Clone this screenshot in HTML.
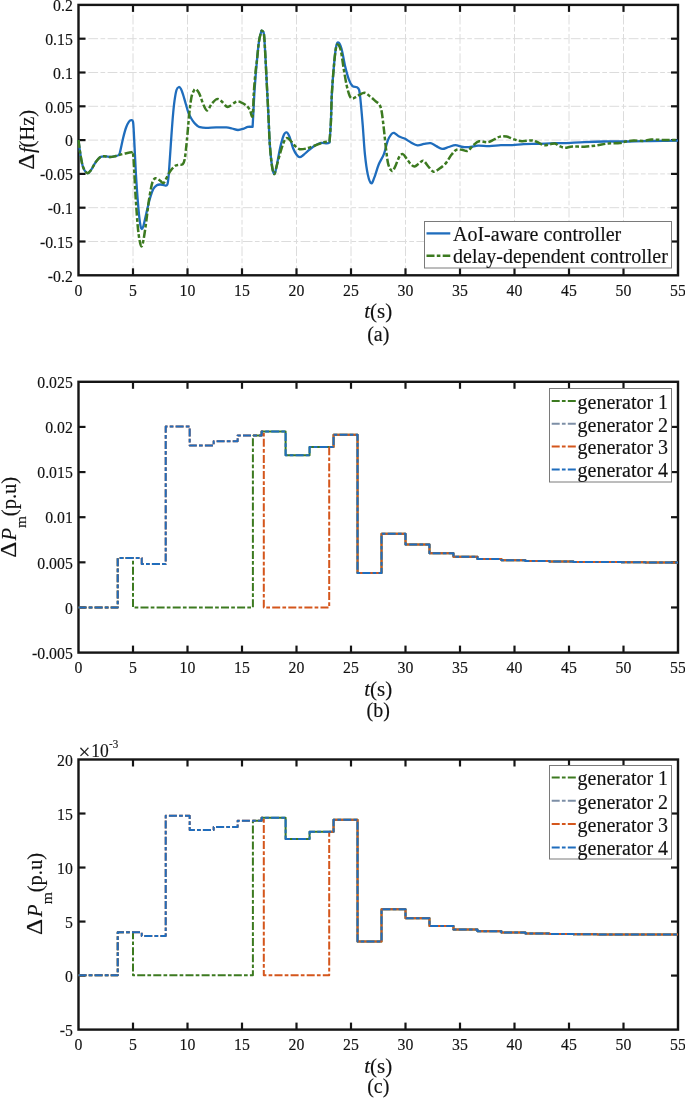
<!DOCTYPE html>
<html><head><meta charset="utf-8"><title>figure</title>
<style>html,body{margin:0;padding:0;background:#fff;}body{width:685px;height:1100px;overflow:hidden;font-family:"Liberation Serif",serif;}svg{display:block;filter:blur(0.3px);}text{stroke:#1a1a1a;stroke-width:0.15px;}</style>
</head><body>
<svg width="685" height="1100" viewBox="0 0 685 1100" font-family="'Liberation Serif', serif" fill="#111">
<rect width="685" height="1100" fill="#fff"/>
<line x1="78.5" y1="38.7" x2="678" y2="38.7" stroke="#dcdcdc" stroke-width="1" stroke-dasharray="9.8 2.4 4.7 2.4" stroke-dashoffset="9.5"/>
<line x1="78.5" y1="72.5" x2="678" y2="72.5" stroke="#dcdcdc" stroke-width="1" stroke-dasharray="9.8 2.4 4.7 2.4" stroke-dashoffset="9.5"/>
<line x1="78.5" y1="106.3" x2="678" y2="106.3" stroke="#dcdcdc" stroke-width="1" stroke-dasharray="9.8 2.4 4.7 2.4" stroke-dashoffset="9.5"/>
<line x1="78.5" y1="140.1" x2="678" y2="140.1" stroke="#dcdcdc" stroke-width="1" stroke-dasharray="9.8 2.4 4.7 2.4" stroke-dashoffset="9.5"/>
<line x1="78.5" y1="173.9" x2="678" y2="173.9" stroke="#dcdcdc" stroke-width="1" stroke-dasharray="9.8 2.4 4.7 2.4" stroke-dashoffset="9.5"/>
<line x1="78.5" y1="207.7" x2="678" y2="207.7" stroke="#dcdcdc" stroke-width="1" stroke-dasharray="9.8 2.4 4.7 2.4" stroke-dashoffset="9.5"/>
<line x1="78.5" y1="241.5" x2="678" y2="241.5" stroke="#dcdcdc" stroke-width="1" stroke-dasharray="9.8 2.4 4.7 2.4" stroke-dashoffset="9.5"/>
<line x1="133" y1="4.9" x2="133" y2="275.3" stroke="#dcdcdc" stroke-width="1" stroke-dasharray="9.8 2.4 4.7 2.4" stroke-dashoffset="9.5"/>
<line x1="187.5" y1="4.9" x2="187.5" y2="275.3" stroke="#dcdcdc" stroke-width="1" stroke-dasharray="9.8 2.4 4.7 2.4" stroke-dashoffset="9.5"/>
<line x1="242" y1="4.9" x2="242" y2="275.3" stroke="#dcdcdc" stroke-width="1" stroke-dasharray="9.8 2.4 4.7 2.4" stroke-dashoffset="9.5"/>
<line x1="296.5" y1="4.9" x2="296.5" y2="275.3" stroke="#dcdcdc" stroke-width="1" stroke-dasharray="9.8 2.4 4.7 2.4" stroke-dashoffset="9.5"/>
<line x1="351" y1="4.9" x2="351" y2="275.3" stroke="#dcdcdc" stroke-width="1" stroke-dasharray="9.8 2.4 4.7 2.4" stroke-dashoffset="9.5"/>
<line x1="405.5" y1="4.9" x2="405.5" y2="275.3" stroke="#dcdcdc" stroke-width="1" stroke-dasharray="9.8 2.4 4.7 2.4" stroke-dashoffset="9.5"/>
<line x1="460" y1="4.9" x2="460" y2="275.3" stroke="#dcdcdc" stroke-width="1" stroke-dasharray="9.8 2.4 4.7 2.4" stroke-dashoffset="9.5"/>
<line x1="514.5" y1="4.9" x2="514.5" y2="275.3" stroke="#dcdcdc" stroke-width="1" stroke-dasharray="9.8 2.4 4.7 2.4" stroke-dashoffset="9.5"/>
<line x1="569" y1="4.9" x2="569" y2="275.3" stroke="#dcdcdc" stroke-width="1" stroke-dasharray="9.8 2.4 4.7 2.4" stroke-dashoffset="9.5"/>
<line x1="623.5" y1="4.9" x2="623.5" y2="275.3" stroke="#dcdcdc" stroke-width="1" stroke-dasharray="9.8 2.4 4.7 2.4" stroke-dashoffset="9.5"/>
<line x1="78.5" y1="38.7" x2="85.5" y2="38.7" stroke="#151515" stroke-width="2.2"/>
<line x1="671" y1="38.7" x2="678" y2="38.7" stroke="#151515" stroke-width="2.2"/>
<line x1="78.5" y1="72.5" x2="85.5" y2="72.5" stroke="#151515" stroke-width="2.2"/>
<line x1="671" y1="72.5" x2="678" y2="72.5" stroke="#151515" stroke-width="2.2"/>
<line x1="78.5" y1="106.3" x2="85.5" y2="106.3" stroke="#151515" stroke-width="2.2"/>
<line x1="671" y1="106.3" x2="678" y2="106.3" stroke="#151515" stroke-width="2.2"/>
<line x1="78.5" y1="140.1" x2="85.5" y2="140.1" stroke="#151515" stroke-width="2.2"/>
<line x1="671" y1="140.1" x2="678" y2="140.1" stroke="#151515" stroke-width="2.2"/>
<line x1="78.5" y1="173.9" x2="85.5" y2="173.9" stroke="#151515" stroke-width="2.2"/>
<line x1="671" y1="173.9" x2="678" y2="173.9" stroke="#151515" stroke-width="2.2"/>
<line x1="78.5" y1="207.7" x2="85.5" y2="207.7" stroke="#151515" stroke-width="2.2"/>
<line x1="671" y1="207.7" x2="678" y2="207.7" stroke="#151515" stroke-width="2.2"/>
<line x1="78.5" y1="241.5" x2="85.5" y2="241.5" stroke="#151515" stroke-width="2.2"/>
<line x1="671" y1="241.5" x2="678" y2="241.5" stroke="#151515" stroke-width="2.2"/>
<line x1="133" y1="275.3" x2="133" y2="268.3" stroke="#151515" stroke-width="2.2"/>
<line x1="133" y1="4.9" x2="133" y2="11.9" stroke="#151515" stroke-width="2.2"/>
<line x1="187.5" y1="275.3" x2="187.5" y2="268.3" stroke="#151515" stroke-width="2.2"/>
<line x1="187.5" y1="4.9" x2="187.5" y2="11.9" stroke="#151515" stroke-width="2.2"/>
<line x1="242" y1="275.3" x2="242" y2="268.3" stroke="#151515" stroke-width="2.2"/>
<line x1="242" y1="4.9" x2="242" y2="11.9" stroke="#151515" stroke-width="2.2"/>
<line x1="296.5" y1="275.3" x2="296.5" y2="268.3" stroke="#151515" stroke-width="2.2"/>
<line x1="296.5" y1="4.9" x2="296.5" y2="11.9" stroke="#151515" stroke-width="2.2"/>
<line x1="351" y1="275.3" x2="351" y2="268.3" stroke="#151515" stroke-width="2.2"/>
<line x1="351" y1="4.9" x2="351" y2="11.9" stroke="#151515" stroke-width="2.2"/>
<line x1="405.5" y1="275.3" x2="405.5" y2="268.3" stroke="#151515" stroke-width="2.2"/>
<line x1="405.5" y1="4.9" x2="405.5" y2="11.9" stroke="#151515" stroke-width="2.2"/>
<line x1="460" y1="275.3" x2="460" y2="268.3" stroke="#151515" stroke-width="2.2"/>
<line x1="460" y1="4.9" x2="460" y2="11.9" stroke="#151515" stroke-width="2.2"/>
<line x1="514.5" y1="275.3" x2="514.5" y2="268.3" stroke="#151515" stroke-width="2.2"/>
<line x1="514.5" y1="4.9" x2="514.5" y2="11.9" stroke="#151515" stroke-width="2.2"/>
<line x1="569" y1="275.3" x2="569" y2="268.3" stroke="#151515" stroke-width="2.2"/>
<line x1="569" y1="4.9" x2="569" y2="11.9" stroke="#151515" stroke-width="2.2"/>
<line x1="623.5" y1="275.3" x2="623.5" y2="268.3" stroke="#151515" stroke-width="2.2"/>
<line x1="623.5" y1="4.9" x2="623.5" y2="11.9" stroke="#151515" stroke-width="2.2"/>
<rect x="78.5" y="4.9" width="599.5" height="270.4" fill="none" stroke="#151515" stroke-width="2.4"/>
<path d="M78.5,140C78.77,142.05 79.35,147.82 80.1,152.3C80.85,156.78 81.78,163.43 83,166.9C84.22,170.37 86.05,172.6 87.4,173.1C88.75,173.6 89.77,171.65 91.1,169.9C92.43,168.15 93.83,164.75 95.4,162.6C96.97,160.45 98.78,158.03 100.5,157C102.22,155.97 104.12,156.4 105.7,156.4C107.28,156.4 108.55,157 110,157C111.45,157 112.93,156.73 114.4,156.4C115.87,156.07 117.82,155.92 118.8,155C119.78,154.08 119.57,153.78 120.3,150.9C121.03,148.02 122.23,141.6 123.2,137.7C124.17,133.8 125.13,130.17 126.1,127.5C127.07,124.83 128.15,122.92 129,121.7C129.85,120.48 130.53,120.2 131.2,120.2C131.87,120.2 132.57,119.75 133,121.7C133.43,123.65 133.48,126.55 133.8,131.9C134.12,137.25 134.48,145.77 134.9,153.8C135.32,161.83 135.7,170.85 136.3,180.1C136.9,189.35 137.82,201.77 138.5,209.3C139.18,216.83 139.83,222.02 140.4,225.3C140.97,228.58 141.37,229 141.9,229C142.43,229 142.87,227.88 143.6,225.3C144.33,222.72 145.27,217.88 146.3,213.5C147.33,209.12 148.63,203.08 149.8,199C150.97,194.92 152.13,191.3 153.3,189C154.47,186.7 155.63,185.95 156.8,185.2C157.97,184.45 158.98,184.47 160.3,184.5C161.62,184.53 163.53,185.38 164.7,185.4C165.87,185.42 166.65,186.17 167.3,184.6C167.95,183.03 168.17,180.43 168.6,176C169.03,171.57 169.43,164.67 169.9,158C170.37,151.33 170.88,143.17 171.4,136C171.92,128.83 172.48,120.85 173,115C173.52,109.15 173.92,105.07 174.5,100.9C175.08,96.73 175.77,92.32 176.5,90C177.23,87.68 178.15,87.17 178.9,87C179.65,86.83 180.28,87.67 181,89C181.72,90.33 182.4,92.5 183.2,95C184,97.5 184.93,101.07 185.8,104C186.67,106.93 187.53,110.27 188.4,112.6C189.27,114.93 190.03,116.3 191,118C191.97,119.7 193.2,121.55 194.2,122.8C195.2,124.05 196.03,124.77 197,125.5C197.97,126.23 198.52,126.8 200,127.2C201.48,127.6 203.22,127.87 205.9,127.9C208.58,127.93 212.7,127.48 216.1,127.4C219.5,127.32 223.65,127.22 226.3,127.4C228.95,127.58 230.05,128.07 232,128.5C233.95,128.93 236.03,129.98 238,130C239.97,130.02 242.17,129.12 243.8,128.6C245.43,128.08 246.33,127.18 247.8,126.9C249.27,126.62 252.6,126.9 252.6,126.9C252.6,126.9 252.87,122.15 253.2,116C253.53,109.85 254,99 254.6,90C255.2,81 256.08,70 256.8,62C257.52,54 258.18,47 258.9,42C259.62,37 260.55,33.83 261.1,32C261.65,30.17 261.72,30.57 262.2,31C262.68,31.43 263.47,30.35 264,34.6C264.53,38.85 264.92,47.98 265.4,56.5C265.88,65.02 266.4,75.97 266.9,85.7C267.4,95.43 267.92,105.17 268.4,114.9C268.88,124.63 269.2,135.58 269.8,144.1C270.4,152.62 271.27,161.02 272,166C272.73,170.98 273.47,173.77 274.2,174C274.93,174.23 275.43,171.65 276.4,167.4C277.37,163.15 278.78,153.85 280,148.5C281.22,143.15 282.6,137.98 283.7,135.3C284.8,132.62 285.63,132.15 286.6,132.4C287.57,132.65 288.4,134.12 289.5,136.8C290.6,139.48 291.98,145.47 293.2,148.5C294.42,151.53 295.72,153.55 296.8,155C297.88,156.45 298.6,157.2 299.7,157.2C300.8,157.2 301.82,156.22 303.4,155C304.98,153.78 307.25,151.48 309.2,149.9C311.15,148.32 313.15,146.67 315.1,145.5C317.05,144.33 318.95,143.25 320.9,142.9C322.85,142.55 325.37,143.45 326.8,143.4C328.23,143.35 329.5,142.6 329.5,142.6C329.5,142.6 330.5,130.27 330.9,122C331.3,113.73 331.37,102.7 331.9,93C332.43,83.3 333.38,71.58 334.1,63.8C334.82,56.02 335.47,49.85 336.2,46.3C336.93,42.75 337.6,42.05 338.5,42.5C339.4,42.95 340.48,45 341.6,49C342.72,53 343.98,61.4 345.2,66.5C346.42,71.6 347.68,76.32 348.9,79.6C350.12,82.88 351.17,84.93 352.5,86.2C353.83,87.47 355.8,86.58 356.9,87.2C358,87.82 358.5,87.75 359.1,89.9C359.7,92.05 359.9,94.27 360.5,100.1C361.1,105.93 361.97,115.9 362.7,124.9C363.43,133.9 364.05,145.83 364.9,154.1C365.75,162.37 366.75,169.63 367.8,174.5C368.85,179.37 370.1,182.82 371.2,183.3C372.3,183.78 373.13,180.57 374.4,177.4C375.67,174.23 377.22,168.18 378.8,164.3C380.38,160.42 382.43,157.98 383.9,154.1C385.37,150.22 386.38,144.28 387.6,141C388.82,137.72 390.12,135.75 391.2,134.4C392.28,133.05 392.77,132.53 394.1,132.9C395.43,133.27 397.37,135.62 399.2,136.6C401.03,137.58 403.15,137.83 405.1,138.8C407.05,139.77 408.83,141.32 410.9,142.4C412.97,143.48 415.32,145.05 417.5,145.3C419.68,145.55 421.8,144.25 424,143.9C426.2,143.55 428.63,142.83 430.7,143.2C432.77,143.57 434.5,145.15 436.4,146.1C438.3,147.05 440.05,148.75 442.1,148.9C444.15,149.05 446.48,147.63 448.7,147C450.92,146.37 453.02,145.1 455.4,145.1C457.78,145.1 460.48,146.68 463,147C465.52,147.32 467.98,147.22 470.5,147C473.02,146.78 474.93,145.85 478.1,145.7C481.27,145.55 485.7,146.2 489.5,146.1C493.3,146 497.1,145.27 500.9,145.1C504.7,144.93 508.5,145.25 512.3,145.1C516.1,144.95 519.27,144.42 523.7,144.2C528.13,143.98 533.68,143.97 538.9,143.8C544.12,143.63 550.7,143.32 555,143.2C559.3,143.08 559.8,143.28 564.7,143.1C569.6,142.92 577.83,142.37 584.4,142.1C590.97,141.83 597.53,141.6 604.1,141.5C610.67,141.4 617.23,141.57 623.8,141.5C630.37,141.43 636.92,141.2 643.5,141.1C650.08,141 657.55,140.97 663.3,140.9C669.05,140.83 675.55,140.73 678,140.7" fill="none" stroke="#1f6dbd" stroke-width="2.3" stroke-linejoin="round"/>
<path d="M78.5,140C78.77,142.05 79.35,147.82 80.1,152.3C80.85,156.78 81.78,163.43 83,166.9C84.22,170.37 86.05,172.6 87.4,173.1C88.75,173.6 89.77,171.65 91.1,169.9C92.43,168.15 93.83,164.75 95.4,162.6C96.97,160.45 98.78,158.03 100.5,157C102.22,155.97 104.12,156.4 105.7,156.4C107.28,156.4 108.55,157 110,157C111.45,157 112.93,156.73 114.4,156.4C115.87,156.07 117.03,155.48 118.8,155C120.57,154.52 122.88,153.97 125,153.5C127.12,153.03 130.17,152.28 131.5,152.2C132.83,152.12 132.55,150.03 133,153C133.45,155.97 133.83,163.83 134.2,170C134.57,176.17 134.85,183.83 135.2,190C135.55,196.17 135.87,200.87 136.3,207C136.73,213.13 137.27,221.3 137.8,226.8C138.33,232.3 138.9,236.72 139.5,240C140.1,243.28 140.73,246.5 141.4,246.5C142.07,246.5 142.65,244.5 143.5,240C144.35,235.5 145.67,225.67 146.5,219.5C147.33,213.33 147.77,208.12 148.5,203C149.23,197.88 150.23,192.3 150.9,188.8C151.57,185.3 151.88,183.7 152.5,182C153.12,180.3 154.02,179.22 154.6,178.6C155.18,177.98 155.43,178.23 156,178.3C156.57,178.37 157.25,178.55 158,179C158.75,179.45 159.62,180.33 160.5,181C161.38,181.67 162.47,183.17 163.3,183C164.13,182.83 164.65,181.47 165.5,180C166.35,178.53 167.4,175.95 168.4,174.2C169.4,172.45 170.37,170.9 171.5,169.5C172.63,168.1 174.03,166.58 175.2,165.8C176.37,165.02 177.28,165.03 178.5,164.8C179.72,164.57 181.47,165.32 182.5,164.4C183.53,163.48 183.97,163.32 184.7,159.3C185.43,155.28 186.17,147.6 186.9,140.3C187.63,133 188.37,122.55 189.1,115.5C189.83,108.45 190.57,102.02 191.3,98C192.03,93.98 192.77,92.87 193.5,91.4C194.23,89.93 194.73,88.83 195.7,89.2C196.67,89.57 197.97,90.92 199.3,93.6C200.63,96.28 202.37,102.5 203.7,105.3C205.03,108.1 205.97,110.65 207.3,110.4C208.63,110.15 210.12,105.68 211.7,103.8C213.28,101.92 215.22,99.58 216.8,99.1C218.38,98.62 219.62,99.68 221.2,100.9C222.78,102.12 224.97,105.48 226.3,106.4C227.63,107.32 227.5,107.2 229.2,106.4C230.9,105.6 234.55,102.28 236.5,101.6C238.45,100.92 239.32,101.68 240.9,102.3C242.48,102.92 244.53,104.08 246,105.3C247.47,106.52 248.6,107.78 249.7,109.6C250.8,111.42 251.92,118.97 252.6,116.2C253.28,113.43 253.32,100.37 253.8,93C254.28,85.63 254.97,77.5 255.5,72C256.03,66.5 256.43,65 257,60C257.57,55 258.22,46.67 258.9,42C259.58,37.33 260.55,33.83 261.1,32C261.65,30.17 261.72,30.57 262.2,31C262.68,31.43 263.47,30.35 264,34.6C264.53,38.85 264.92,47.98 265.4,56.5C265.88,65.02 266.4,75.97 266.9,85.7C267.4,95.43 267.92,105.17 268.4,114.9C268.88,124.63 269.2,135.58 269.8,144.1C270.4,152.62 271.27,161.02 272,166C272.73,170.98 273.5,173.67 274.2,174C274.9,174.33 275.47,170.55 276.2,168C276.93,165.45 277.47,162.68 278.6,158.7C279.73,154.72 281.67,147.52 283,144.1C284.33,140.68 285.38,138.82 286.6,138.2C287.82,137.58 288.97,139.18 290.3,140.4C291.63,141.62 293.03,144.03 294.6,145.5C296.17,146.97 297.75,148.7 299.7,149.2C301.65,149.7 303.73,149.12 306.3,148.5C308.87,147.88 312.18,146.53 315.1,145.5C318.02,144.47 321.4,142.95 323.8,142.3C326.2,141.65 329.5,141.6 329.5,141.6C329.5,141.6 330.5,130.1 330.9,122C331.3,113.9 331.37,102.7 331.9,93C332.43,83.3 333.42,71.3 334.1,63.8C334.78,56.3 335.37,51.2 336,48C336.63,44.8 337.1,44.2 337.9,44.6C338.7,45 339.82,46.27 340.8,50.4C341.78,54.53 342.82,63.55 343.8,69.4C344.78,75.25 345.73,81.12 346.7,85.5C347.67,89.88 348.63,93.52 349.6,95.7C350.57,97.88 351.28,98.48 352.5,98.6C353.72,98.72 354.95,97.37 356.9,96.4C358.85,95.43 362.02,92.8 364.2,92.8C366.38,92.8 368.05,94.95 370,96.4C371.95,97.85 374.32,100.15 375.9,101.5C377.48,102.85 378.53,102.78 379.5,104.5C380.47,106.22 380.97,107.67 381.7,111.8C382.43,115.93 383.17,122.98 383.9,129.3C384.63,135.62 385.37,143.87 386.1,149.7C386.83,155.53 387.33,160.77 388.3,164.3C389.27,167.83 390.8,170.42 391.9,170.9C393,171.38 393.68,169.52 394.9,167.2C396.12,164.88 397.87,159.18 399.2,157C400.53,154.82 401.68,153.85 402.9,154.1C404.12,154.35 405.17,156.8 406.5,158.5C407.83,160.2 409.55,162.97 410.9,164.3C412.25,165.63 413.27,166.62 414.6,166.5C415.93,166.38 417.45,164.57 418.9,163.6C420.35,162.63 421.73,160.22 423.3,160.7C424.87,161.18 426.6,164.67 428.3,166.5C430,168.33 431.68,171.32 433.5,171.7C435.32,172.08 437.13,170.23 439.2,168.8C441.27,167.37 443.83,165.47 445.9,163.1C447.97,160.73 449.87,156.82 451.6,154.6C453.33,152.38 454.57,150.6 456.3,149.8C458.03,149 460.1,149.63 462,149.8C463.9,149.97 465.8,151.58 467.7,150.8C469.6,150.02 471.5,146.68 473.4,145.1C475.3,143.52 476.73,141.77 479.1,141.3C481.47,140.83 485.07,142.62 487.6,142.3C490.13,141.98 492.23,140.35 494.3,139.4C496.37,138.45 497.95,137.07 500,136.6C502.05,136.13 504.23,136.13 506.6,136.6C508.97,137.07 511.67,138.62 514.2,139.4C516.73,140.18 518.95,141.13 521.8,141.3C524.65,141.47 528.77,140.3 531.3,140.4C533.83,140.5 534.95,141.12 537,141.9C539.05,142.68 541.4,144.72 543.6,145.1C545.8,145.48 548.3,144.47 550.2,144.2C552.1,143.93 553.57,143.22 555,143.5C556.43,143.78 557.18,145.18 558.8,145.9C560.42,146.62 562.4,147.7 564.7,147.8C567,147.9 569.32,146.68 572.6,146.5C575.88,146.32 580.47,146.87 584.4,146.7C588.33,146.53 592.25,146.03 596.2,145.5C600.15,144.97 604.15,143.9 608.1,143.5C612.05,143.1 616.95,143.43 619.9,143.1C622.85,142.77 623.5,141.93 625.8,141.5C628.1,141.07 630.75,140.6 633.7,140.5C636.65,140.4 640.55,141.05 643.5,140.9C646.45,140.75 648.1,139.75 651.4,139.6C654.7,139.45 659.03,139.93 663.3,140C667.57,140.07 674.72,140 677,140" fill="none" stroke="#3c7a20" stroke-width="2.5" stroke-dasharray="8 2.3 3.6 2.3" stroke-linejoin="round"/>
<rect x="424.5" y="221.5" width="247" height="46.5" fill="#fff" stroke="#7a7a7a" stroke-width="1"/>
<line x1="426.5" y1="233.4" x2="450.3" y2="233.4" stroke="#1f6dbd" stroke-width="2.3"/>
<line x1="426.5" y1="255.8" x2="450.3" y2="255.8" stroke="#3c7a20" stroke-width="2.5" stroke-dasharray="8 2.3 3.6 2.3"/>
<text x="453" y="241.2" font-size="20">AoI-aware controller</text>
<text x="453" y="263.2" font-size="20">delay-dependent controller</text>
<text transform="translate(72.8,11.1) scale(1,1.11)" text-anchor="end" font-size="15.8">0.2</text>
<text transform="translate(72.8,44.9) scale(1,1.11)" text-anchor="end" font-size="15.8">0.15</text>
<text transform="translate(72.8,78.7) scale(1,1.11)" text-anchor="end" font-size="15.8">0.1</text>
<text transform="translate(72.8,112.5) scale(1,1.11)" text-anchor="end" font-size="15.8">0.05</text>
<text transform="translate(72.8,146.3) scale(1,1.11)" text-anchor="end" font-size="15.8">0</text>
<text transform="translate(72.8,180.1) scale(1,1.11)" text-anchor="end" font-size="15.8">-0.05</text>
<text transform="translate(72.8,213.9) scale(1,1.11)" text-anchor="end" font-size="15.8">-0.1</text>
<text transform="translate(72.8,247.7) scale(1,1.11)" text-anchor="end" font-size="15.8">-0.15</text>
<text transform="translate(72.8,281.5) scale(1,1.11)" text-anchor="end" font-size="15.8">-0.2</text>
<text transform="translate(78.5,295.8) scale(1,1.11)" text-anchor="middle" font-size="15.8">0</text>
<text transform="translate(133,295.8) scale(1,1.11)" text-anchor="middle" font-size="15.8">5</text>
<text transform="translate(187.5,295.8) scale(1,1.11)" text-anchor="middle" font-size="15.8">10</text>
<text transform="translate(242,295.8) scale(1,1.11)" text-anchor="middle" font-size="15.8">15</text>
<text transform="translate(296.5,295.8) scale(1,1.11)" text-anchor="middle" font-size="15.8">20</text>
<text transform="translate(351,295.8) scale(1,1.11)" text-anchor="middle" font-size="15.8">25</text>
<text transform="translate(405.5,295.8) scale(1,1.11)" text-anchor="middle" font-size="15.8">30</text>
<text transform="translate(460,295.8) scale(1,1.11)" text-anchor="middle" font-size="15.8">35</text>
<text transform="translate(514.5,295.8) scale(1,1.11)" text-anchor="middle" font-size="15.8">40</text>
<text transform="translate(569,295.8) scale(1,1.11)" text-anchor="middle" font-size="15.8">45</text>
<text transform="translate(623.5,295.8) scale(1,1.11)" text-anchor="middle" font-size="15.8">50</text>
<text transform="translate(678,295.8) scale(1,1.11)" text-anchor="middle" font-size="15.8">55</text>
<text x="378.25" y="318.4" text-anchor="middle" font-size="21"><tspan font-style="italic">t</tspan>(s)</text>
<text x="378.25" y="340.9" text-anchor="middle" font-size="20">(a)</text>
<text transform="translate(33.5,169.7) rotate(-90) scale(1.13,1)" font-size="22.3">&#916;</text>
<text transform="translate(33.5,153.1) rotate(-90)" font-size="20.5"><tspan font-style="italic">f</tspan>(Hz)</text>
<line x1="78.5" y1="426.93" x2="85.5" y2="426.93" stroke="#151515" stroke-width="2.2"/>
<line x1="671" y1="426.93" x2="678" y2="426.93" stroke="#151515" stroke-width="2.2"/>
<line x1="78.5" y1="472.07" x2="85.5" y2="472.07" stroke="#151515" stroke-width="2.2"/>
<line x1="671" y1="472.07" x2="678" y2="472.07" stroke="#151515" stroke-width="2.2"/>
<line x1="78.5" y1="517.2" x2="85.5" y2="517.2" stroke="#151515" stroke-width="2.2"/>
<line x1="671" y1="517.2" x2="678" y2="517.2" stroke="#151515" stroke-width="2.2"/>
<line x1="78.5" y1="562.33" x2="85.5" y2="562.33" stroke="#151515" stroke-width="2.2"/>
<line x1="671" y1="562.33" x2="678" y2="562.33" stroke="#151515" stroke-width="2.2"/>
<line x1="78.5" y1="607.47" x2="85.5" y2="607.47" stroke="#151515" stroke-width="2.2"/>
<line x1="671" y1="607.47" x2="678" y2="607.47" stroke="#151515" stroke-width="2.2"/>
<line x1="133" y1="652.6" x2="133" y2="645.6" stroke="#151515" stroke-width="2.2"/>
<line x1="133" y1="381.8" x2="133" y2="388.8" stroke="#151515" stroke-width="2.2"/>
<line x1="187.5" y1="652.6" x2="187.5" y2="645.6" stroke="#151515" stroke-width="2.2"/>
<line x1="187.5" y1="381.8" x2="187.5" y2="388.8" stroke="#151515" stroke-width="2.2"/>
<line x1="242" y1="652.6" x2="242" y2="645.6" stroke="#151515" stroke-width="2.2"/>
<line x1="242" y1="381.8" x2="242" y2="388.8" stroke="#151515" stroke-width="2.2"/>
<line x1="296.5" y1="652.6" x2="296.5" y2="645.6" stroke="#151515" stroke-width="2.2"/>
<line x1="296.5" y1="381.8" x2="296.5" y2="388.8" stroke="#151515" stroke-width="2.2"/>
<line x1="351" y1="652.6" x2="351" y2="645.6" stroke="#151515" stroke-width="2.2"/>
<line x1="351" y1="381.8" x2="351" y2="388.8" stroke="#151515" stroke-width="2.2"/>
<line x1="405.5" y1="652.6" x2="405.5" y2="645.6" stroke="#151515" stroke-width="2.2"/>
<line x1="405.5" y1="381.8" x2="405.5" y2="388.8" stroke="#151515" stroke-width="2.2"/>
<line x1="460" y1="652.6" x2="460" y2="645.6" stroke="#151515" stroke-width="2.2"/>
<line x1="460" y1="381.8" x2="460" y2="388.8" stroke="#151515" stroke-width="2.2"/>
<line x1="514.5" y1="652.6" x2="514.5" y2="645.6" stroke="#151515" stroke-width="2.2"/>
<line x1="514.5" y1="381.8" x2="514.5" y2="388.8" stroke="#151515" stroke-width="2.2"/>
<line x1="569" y1="652.6" x2="569" y2="645.6" stroke="#151515" stroke-width="2.2"/>
<line x1="569" y1="381.8" x2="569" y2="388.8" stroke="#151515" stroke-width="2.2"/>
<line x1="623.5" y1="652.6" x2="623.5" y2="645.6" stroke="#151515" stroke-width="2.2"/>
<line x1="623.5" y1="381.8" x2="623.5" y2="388.8" stroke="#151515" stroke-width="2.2"/>
<rect x="78.5" y="381.8" width="599.5" height="270.8" fill="none" stroke="#151515" stroke-width="2.4"/>
<path d="M78.5,607.5L117.74,607.5L117.74,558L133,558L133,607.5L141.72,607.5L141.72,607.5L165.7,607.5L165.7,607.5L189.68,607.5L189.68,607.5L213.66,607.5L213.66,607.5L237.64,607.5L237.64,607.5L252.9,607.5L252.9,435.4" fill="none" stroke="#3c7a20" stroke-width="2" stroke-dasharray="8 2.2 3.7 2.2" stroke-linejoin="round"/>
<path d="M252.9,435.4L261.62,435.4L261.62,431.4L285.6,431.4L285.6,455.3L309.58,455.3L309.58,447.1L333.56,447.1L333.56,434.8L357.54,434.8L357.54,572.9L381.52,572.9L381.52,533.8L405.5,533.8L405.5,544.5L429.48,544.5L429.48,553.3L453.46,553.3L453.46,556.8L477.44,556.8L477.44,559L501.42,559L501.42,560.3L525.4,560.3L525.4,561L549.38,561L549.38,561.5L573.36,561.5L573.36,561.9L597.34,561.9L597.34,562.1L621.32,562.1L621.32,562.3L645.3,562.3L645.3,562.4L669.28,562.4L669.28,562.5L678,562.5" fill="none" stroke="#3c7a20" stroke-width="2" stroke-linejoin="round"/>
<path d="M78.5,607.5L117.74,607.5L117.74,558L141.72,558L141.72,563.9L165.7,563.9L165.7,426.6L189.68,426.6L189.68,445.6L213.66,445.6L213.66,441.2L237.64,441.2L237.64,435.4L261.62,435.4L261.62,431.4L263.8,431.4L263.8,607.5L285.6,607.5L285.6,607.5L309.58,607.5L309.58,607.5L329.2,607.5L329.2,447.1" fill="none" stroke="#d4561c" stroke-width="2" stroke-dasharray="8 2.2 3.7 2.2" stroke-linejoin="round"/>
<path d="M329.2,447.1L333.56,447.1L333.56,434.8L357.54,434.8L357.54,572.9L381.52,572.9L381.52,533.8L405.5,533.8L405.5,544.5L429.48,544.5L429.48,553.3L453.46,553.3L453.46,556.8L477.44,556.8L477.44,559L501.42,559L501.42,560.3L525.4,560.3L525.4,561L549.38,561L549.38,561.5L573.36,561.5L573.36,561.9L597.34,561.9L597.34,562.1L621.32,562.1L621.32,562.3L645.3,562.3L645.3,562.4L669.28,562.4L669.28,562.5L678,562.5" fill="none" stroke="#d4561c" stroke-width="2" stroke-linejoin="round"/>
<path d="M78.5,607.5L117.74,607.5L117.74,558L141.72,558L141.72,563.9L165.7,563.9L165.7,426.6L189.68,426.6L189.68,445.6L213.66,445.6L213.66,441.2L237.64,441.2L237.64,435.4L261.62,435.4L261.62,431.4L285.6,431.4L285.6,455.3L309.58,455.3L309.58,447.1L333.56,447.1L333.56,434.8L357.54,434.8L357.54,572.9L381.52,572.9L381.52,533.8L405.5,533.8L405.5,544.5L429.48,544.5L429.48,553.3L453.46,553.3L453.46,556.8L477.44,556.8L477.44,559L501.42,559L501.42,560.3L525.4,560.3L525.4,561L549.38,561L549.38,561.5L573.36,561.5L573.36,561.9L597.34,561.9L597.34,562.1L621.32,562.1L621.32,562.3L645.3,562.3L645.3,562.4L669.28,562.4L669.28,562.5L678,562.5" fill="none" stroke="#1f6dbd" stroke-width="2" stroke-dasharray="8 2.2 3.7 2.2" stroke-linejoin="round"/>
<rect x="549.5" y="388.5" width="122" height="93.5" fill="#fff" stroke="#7a7a7a" stroke-width="1"/>
<line x1="551.7" y1="400.9" x2="576" y2="400.9" stroke="#3c7a20" stroke-width="2" stroke-dasharray="8 2.2 3.7 2.2"/>
<text x="577.6" y="408.7" font-size="20">generator 1</text>
<line x1="551.7" y1="423.7" x2="576" y2="423.7" stroke="#7d8fa6" stroke-width="2" stroke-dasharray="8 2.2 3.7 2.2"/>
<text x="577.6" y="431.5" font-size="20">generator 2</text>
<line x1="551.7" y1="446.6" x2="576" y2="446.6" stroke="#d4561c" stroke-width="2" stroke-dasharray="8 2.2 3.7 2.2"/>
<text x="577.6" y="454.4" font-size="20">generator 3</text>
<line x1="551.7" y1="469.6" x2="576" y2="469.6" stroke="#1f6dbd" stroke-width="2" stroke-dasharray="8 2.2 3.7 2.2"/>
<text x="577.6" y="477.4" font-size="20">generator 4</text>
<text transform="translate(72.8,388) scale(1,1.11)" text-anchor="end" font-size="15.8">0.025</text>
<text transform="translate(72.8,433.13) scale(1,1.11)" text-anchor="end" font-size="15.8">0.02</text>
<text transform="translate(72.8,478.27) scale(1,1.11)" text-anchor="end" font-size="15.8">0.015</text>
<text transform="translate(72.8,523.4) scale(1,1.11)" text-anchor="end" font-size="15.8">0.01</text>
<text transform="translate(72.8,568.53) scale(1,1.11)" text-anchor="end" font-size="15.8">0.005</text>
<text transform="translate(72.8,613.67) scale(1,1.11)" text-anchor="end" font-size="15.8">0</text>
<text transform="translate(72.8,658.8) scale(1,1.11)" text-anchor="end" font-size="15.8">-0.005</text>
<text transform="translate(78.5,673.3) scale(1,1.11)" text-anchor="middle" font-size="15.8">0</text>
<text transform="translate(133,673.3) scale(1,1.11)" text-anchor="middle" font-size="15.8">5</text>
<text transform="translate(187.5,673.3) scale(1,1.11)" text-anchor="middle" font-size="15.8">10</text>
<text transform="translate(242,673.3) scale(1,1.11)" text-anchor="middle" font-size="15.8">15</text>
<text transform="translate(296.5,673.3) scale(1,1.11)" text-anchor="middle" font-size="15.8">20</text>
<text transform="translate(351,673.3) scale(1,1.11)" text-anchor="middle" font-size="15.8">25</text>
<text transform="translate(405.5,673.3) scale(1,1.11)" text-anchor="middle" font-size="15.8">30</text>
<text transform="translate(460,673.3) scale(1,1.11)" text-anchor="middle" font-size="15.8">35</text>
<text transform="translate(514.5,673.3) scale(1,1.11)" text-anchor="middle" font-size="15.8">40</text>
<text transform="translate(569,673.3) scale(1,1.11)" text-anchor="middle" font-size="15.8">45</text>
<text transform="translate(623.5,673.3) scale(1,1.11)" text-anchor="middle" font-size="15.8">50</text>
<text transform="translate(678,673.3) scale(1,1.11)" text-anchor="middle" font-size="15.8">55</text>
<text x="378.25" y="695.8" text-anchor="middle" font-size="21"><tspan font-style="italic">t</tspan>(s)</text>
<text x="378.25" y="716.9" text-anchor="middle" font-size="20">(b)</text>
<text transform="translate(15.9,557.7) rotate(-90) scale(1.13,1)" font-size="22.3">&#916;</text>
<text transform="translate(15.9,540.5) rotate(-90)" font-size="20.5"><tspan font-style="italic">P</tspan><tspan dy="10" font-size="15.2">m</tspan><tspan dy="-10">(p.u)</tspan></text>
<line x1="78.5" y1="813.52" x2="85.5" y2="813.52" stroke="#151515" stroke-width="2.2"/>
<line x1="671" y1="813.52" x2="678" y2="813.52" stroke="#151515" stroke-width="2.2"/>
<line x1="78.5" y1="867.54" x2="85.5" y2="867.54" stroke="#151515" stroke-width="2.2"/>
<line x1="671" y1="867.54" x2="678" y2="867.54" stroke="#151515" stroke-width="2.2"/>
<line x1="78.5" y1="921.56" x2="85.5" y2="921.56" stroke="#151515" stroke-width="2.2"/>
<line x1="671" y1="921.56" x2="678" y2="921.56" stroke="#151515" stroke-width="2.2"/>
<line x1="78.5" y1="975.58" x2="85.5" y2="975.58" stroke="#151515" stroke-width="2.2"/>
<line x1="671" y1="975.58" x2="678" y2="975.58" stroke="#151515" stroke-width="2.2"/>
<line x1="133" y1="1029.6" x2="133" y2="1022.6" stroke="#151515" stroke-width="2.2"/>
<line x1="133" y1="759.5" x2="133" y2="766.5" stroke="#151515" stroke-width="2.2"/>
<line x1="187.5" y1="1029.6" x2="187.5" y2="1022.6" stroke="#151515" stroke-width="2.2"/>
<line x1="187.5" y1="759.5" x2="187.5" y2="766.5" stroke="#151515" stroke-width="2.2"/>
<line x1="242" y1="1029.6" x2="242" y2="1022.6" stroke="#151515" stroke-width="2.2"/>
<line x1="242" y1="759.5" x2="242" y2="766.5" stroke="#151515" stroke-width="2.2"/>
<line x1="296.5" y1="1029.6" x2="296.5" y2="1022.6" stroke="#151515" stroke-width="2.2"/>
<line x1="296.5" y1="759.5" x2="296.5" y2="766.5" stroke="#151515" stroke-width="2.2"/>
<line x1="351" y1="1029.6" x2="351" y2="1022.6" stroke="#151515" stroke-width="2.2"/>
<line x1="351" y1="759.5" x2="351" y2="766.5" stroke="#151515" stroke-width="2.2"/>
<line x1="405.5" y1="1029.6" x2="405.5" y2="1022.6" stroke="#151515" stroke-width="2.2"/>
<line x1="405.5" y1="759.5" x2="405.5" y2="766.5" stroke="#151515" stroke-width="2.2"/>
<line x1="460" y1="1029.6" x2="460" y2="1022.6" stroke="#151515" stroke-width="2.2"/>
<line x1="460" y1="759.5" x2="460" y2="766.5" stroke="#151515" stroke-width="2.2"/>
<line x1="514.5" y1="1029.6" x2="514.5" y2="1022.6" stroke="#151515" stroke-width="2.2"/>
<line x1="514.5" y1="759.5" x2="514.5" y2="766.5" stroke="#151515" stroke-width="2.2"/>
<line x1="569" y1="1029.6" x2="569" y2="1022.6" stroke="#151515" stroke-width="2.2"/>
<line x1="569" y1="759.5" x2="569" y2="766.5" stroke="#151515" stroke-width="2.2"/>
<line x1="623.5" y1="1029.6" x2="623.5" y2="1022.6" stroke="#151515" stroke-width="2.2"/>
<line x1="623.5" y1="759.5" x2="623.5" y2="766.5" stroke="#151515" stroke-width="2.2"/>
<rect x="78.5" y="759.5" width="599.5" height="270.1" fill="none" stroke="#151515" stroke-width="2.4"/>
<path d="M78.5,975.3L117.74,975.3L117.74,932.2L133,932.2L133,975.3L141.72,975.3L141.72,975.3L165.7,975.3L165.7,975.3L189.68,975.3L189.68,975.3L213.66,975.3L213.66,975.3L237.64,975.3L237.64,975.3L252.9,975.3L252.9,820.7" fill="none" stroke="#3c7a20" stroke-width="2" stroke-dasharray="8 2.2 3.7 2.2" stroke-linejoin="round"/>
<path d="M252.9,820.7L261.62,820.7L261.62,817.7L285.6,817.7L285.6,839L309.58,839L309.58,831.8L333.56,831.8L333.56,819.8L357.54,819.8L357.54,941.5L381.52,941.5L381.52,909.2L405.5,909.2L405.5,918.2L429.48,918.2L429.48,926L453.46,926L453.46,929.6L477.44,929.6L477.44,931.2L501.42,931.2L501.42,932.5L525.4,932.5L525.4,933.5L549.38,933.5L549.38,934L573.36,934L573.36,934.3L597.34,934.3L597.34,934.5L621.32,934.5L621.32,934.6L645.3,934.6L645.3,934.6L669.28,934.6L669.28,934.6L678,934.6" fill="none" stroke="#3c7a20" stroke-width="2" stroke-linejoin="round"/>
<path d="M78.5,975.3L117.74,975.3L117.74,932.2L141.72,932.2L141.72,936L165.7,936L165.7,815.7L189.68,815.7L189.68,830L213.66,830L213.66,827.1L237.64,827.1L237.64,820.7L261.62,820.7L261.62,817.7L263.8,817.7L263.8,975.3L285.6,975.3L285.6,975.3L309.58,975.3L309.58,975.3L329.2,975.3L329.2,831.8" fill="none" stroke="#d4561c" stroke-width="2" stroke-dasharray="8 2.2 3.7 2.2" stroke-linejoin="round"/>
<path d="M329.2,831.8L333.56,831.8L333.56,819.8L357.54,819.8L357.54,941.5L381.52,941.5L381.52,909.2L405.5,909.2L405.5,918.2L429.48,918.2L429.48,926L453.46,926L453.46,929.6L477.44,929.6L477.44,931.2L501.42,931.2L501.42,932.5L525.4,932.5L525.4,933.5L549.38,933.5L549.38,934L573.36,934L573.36,934.3L597.34,934.3L597.34,934.5L621.32,934.5L621.32,934.6L645.3,934.6L645.3,934.6L669.28,934.6L669.28,934.6L678,934.6" fill="none" stroke="#d4561c" stroke-width="2" stroke-linejoin="round"/>
<path d="M78.5,975.3L117.74,975.3L117.74,932.2L141.72,932.2L141.72,936L165.7,936L165.7,815.7L189.68,815.7L189.68,830L213.66,830L213.66,827.1L237.64,827.1L237.64,820.7L261.62,820.7L261.62,817.7L285.6,817.7L285.6,839L309.58,839L309.58,831.8L333.56,831.8L333.56,819.8L357.54,819.8L357.54,941.5L381.52,941.5L381.52,909.2L405.5,909.2L405.5,918.2L429.48,918.2L429.48,926L453.46,926L453.46,929.6L477.44,929.6L477.44,931.2L501.42,931.2L501.42,932.5L525.4,932.5L525.4,933.5L549.38,933.5L549.38,934L573.36,934L573.36,934.3L597.34,934.3L597.34,934.5L621.32,934.5L621.32,934.6L645.3,934.6L645.3,934.6L669.28,934.6L669.28,934.6L678,934.6" fill="none" stroke="#1f6dbd" stroke-width="2" stroke-dasharray="8 2.2 3.7 2.2" stroke-linejoin="round"/>
<rect x="549.5" y="765.5" width="122" height="93.5" fill="#fff" stroke="#7a7a7a" stroke-width="1"/>
<line x1="551.7" y1="777.5" x2="576" y2="777.5" stroke="#3c7a20" stroke-width="2" stroke-dasharray="8 2.2 3.7 2.2"/>
<text x="577.6" y="785.3" font-size="20">generator 1</text>
<line x1="551.7" y1="800.8" x2="576" y2="800.8" stroke="#7d8fa6" stroke-width="2" stroke-dasharray="8 2.2 3.7 2.2"/>
<text x="577.6" y="808.6" font-size="20">generator 2</text>
<line x1="551.7" y1="824.1" x2="576" y2="824.1" stroke="#d4561c" stroke-width="2" stroke-dasharray="8 2.2 3.7 2.2"/>
<text x="577.6" y="831.9" font-size="20">generator 3</text>
<line x1="551.7" y1="847.4" x2="576" y2="847.4" stroke="#1f6dbd" stroke-width="2" stroke-dasharray="8 2.2 3.7 2.2"/>
<text x="577.6" y="855.2" font-size="20">generator 4</text>
<text transform="translate(72.8,765.7) scale(1,1.11)" text-anchor="end" font-size="15.8">20</text>
<text transform="translate(72.8,819.72) scale(1,1.11)" text-anchor="end" font-size="15.8">15</text>
<text transform="translate(72.8,873.74) scale(1,1.11)" text-anchor="end" font-size="15.8">10</text>
<text transform="translate(72.8,927.76) scale(1,1.11)" text-anchor="end" font-size="15.8">5</text>
<text transform="translate(72.8,981.78) scale(1,1.11)" text-anchor="end" font-size="15.8">0</text>
<text transform="translate(72.8,1035.8) scale(1,1.11)" text-anchor="end" font-size="15.8">-5</text>
<text transform="translate(78.5,1050.3) scale(1,1.11)" text-anchor="middle" font-size="15.8">0</text>
<text transform="translate(133,1050.3) scale(1,1.11)" text-anchor="middle" font-size="15.8">5</text>
<text transform="translate(187.5,1050.3) scale(1,1.11)" text-anchor="middle" font-size="15.8">10</text>
<text transform="translate(242,1050.3) scale(1,1.11)" text-anchor="middle" font-size="15.8">15</text>
<text transform="translate(296.5,1050.3) scale(1,1.11)" text-anchor="middle" font-size="15.8">20</text>
<text transform="translate(351,1050.3) scale(1,1.11)" text-anchor="middle" font-size="15.8">25</text>
<text transform="translate(405.5,1050.3) scale(1,1.11)" text-anchor="middle" font-size="15.8">30</text>
<text transform="translate(460,1050.3) scale(1,1.11)" text-anchor="middle" font-size="15.8">35</text>
<text transform="translate(514.5,1050.3) scale(1,1.11)" text-anchor="middle" font-size="15.8">40</text>
<text transform="translate(569,1050.3) scale(1,1.11)" text-anchor="middle" font-size="15.8">45</text>
<text transform="translate(623.5,1050.3) scale(1,1.11)" text-anchor="middle" font-size="15.8">50</text>
<text transform="translate(678,1050.3) scale(1,1.11)" text-anchor="middle" font-size="15.8">55</text>
<text x="378.25" y="1072.5" text-anchor="middle" font-size="21"><tspan font-style="italic">t</tspan>(s)</text>
<text x="378.25" y="1092.9" text-anchor="middle" font-size="20">(c)</text>
<text transform="translate(41.85,934.9) rotate(-90) scale(1.13,1)" font-size="22.3">&#916;</text>
<text transform="translate(41.85,916.9) rotate(-90)" font-size="20.5"><tspan font-style="italic">P</tspan><tspan dy="10.1" font-size="15.5">m</tspan><tspan dy="-10.1">(p.u)</tspan></text>
<text x="78.6" y="759" font-size="21">&#215;</text>
<text transform="translate(91.2,756.6) scale(1,1.06)" text-anchor="start" font-size="17.5">10</text>
<text transform="translate(109,748.3) scale(1,1.06)" text-anchor="start" font-size="11">-3</text>
</svg>
</body></html>
